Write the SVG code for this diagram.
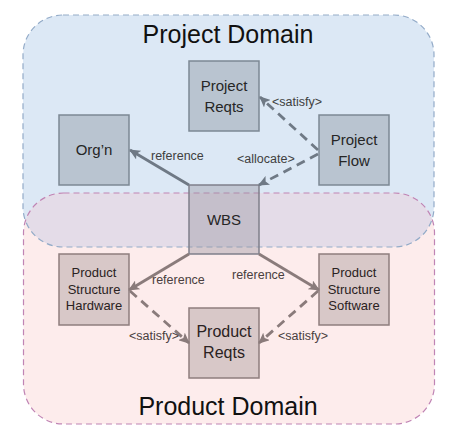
<svg xmlns="http://www.w3.org/2000/svg" width="470" height="441" viewBox="0 0 470 441">
  <defs>
    <style>
      .lbl{font-family:"Liberation Sans",Arial,sans-serif;font-size:12.5px;fill:#404040}
      .lbl2{font-family:"Liberation Sans",Arial,sans-serif;font-size:12.5px;fill:#4a4040}
      .ttl{font-family:"Liberation Sans",Arial,sans-serif;font-size:25px;fill:#111111;text-anchor:middle}
      .nt{font-family:"Liberation Sans",Arial,sans-serif;font-size:15px;fill:#262626;text-anchor:middle}
      .ntl{font-family:"Liberation Sans",Arial,sans-serif;font-size:16px;fill:#2a2222;text-anchor:middle}
      .nts{font-family:"Liberation Sans",Arial,sans-serif;font-size:13px;fill:#2a2222;text-anchor:middle}
      .up{fill:#b9c4d0;stroke:#7c8894;stroke-width:1.5}
      .lo{fill:#d8c8c8;stroke:#8e7e7e;stroke-width:1.5}
      .cu{fill:none;stroke:#6f7985;stroke-width:2.8}
      .cl{fill:none;stroke:#8a7b7b;stroke-width:2.8}
      .dash{stroke-dasharray:9 6}
    </style>
    <marker id="au" markerUnits="userSpaceOnUse" markerWidth="12" markerHeight="10" refX="10" refY="5" orient="auto">
      <path d="M0,0 L11,5 L0,10 L2.5,5 Z" fill="#6f7985"/>
    </marker>
    <marker id="al" markerUnits="userSpaceOnUse" markerWidth="12" markerHeight="10" refX="10" refY="5" orient="auto">
      <path d="M0,0 L11,5 L0,10 L2.5,5 Z" fill="#8a7b7b"/>
    </marker>
    <clipPath id="blueClip">
      <rect x="23" y="15" width="411" height="232" rx="40" ry="40"/>
    </clipPath>
  </defs>

  <g id="domains">
    <rect id="project-domain-bg" x="23" y="15" width="411" height="232" rx="40" ry="40" fill="#dce8f5"/>
    <rect id="product-domain-bg" x="23.5" y="193" width="411" height="231" rx="40" ry="40" fill="#fdecec"/>
    <rect x="23.5" y="193" width="411" height="231" rx="40" ry="40" fill="#e4dce8" clip-path="url(#blueClip)"/>
    <rect x="23" y="15" width="411" height="232" rx="40" ry="40" fill="none" stroke="#93abc8" stroke-width="1.2" stroke-dasharray="6 4"/>
    <rect x="23.5" y="193" width="411" height="231" rx="40" ry="40" fill="none" stroke="#c084b4" stroke-width="1.2" stroke-dasharray="6 4"/>
    <text class="ttl" x="228" y="43">Project Domain</text>
    <text class="ttl" x="228" y="415">Product Domain</text>
  </g>

  <g id="node-project-reqts">
    <rect class="up" x="189" y="61" width="70" height="70"/>
    <text class="nt" x="224" y="91">Project</text>
    <text class="nt" x="224" y="112">Reqts</text>
  </g>
  <g id="node-orgn">
    <rect class="up" x="59" y="115" width="70" height="70"/>
    <text class="nt" x="94" y="155">Org’n</text>
  </g>
  <g id="node-project-flow">
    <rect class="up" x="319" y="115" width="70" height="70"/>
    <text class="nt" x="354" y="145">Project</text>
    <text class="nt" x="354" y="166">Flow</text>
  </g>
  <g id="node-wbs">
    <rect x="189" y="185" width="70" height="69" fill="#9a96a2" fill-opacity="0.42" stroke="#7f7f8a" stroke-width="1.5"/>
    <text class="nt" x="224" y="225">WBS</text>
  </g>
  <g id="node-ps-hardware">
    <rect class="lo" x="59" y="254" width="70" height="71"/>
    <text class="nts" x="94" y="277">Product</text>
    <text class="nts" x="94" y="293.5">Structure</text>
    <text class="nts" x="94" y="310">Hardware</text>
  </g>
  <g id="node-ps-software">
    <rect class="lo" x="319" y="254" width="70" height="71"/>
    <text class="nts" x="354" y="277">Product</text>
    <text class="nts" x="354" y="293.5">Structure</text>
    <text class="nts" x="354" y="310">Software</text>
  </g>
  <g id="node-product-reqts">
    <rect class="lo" x="189" y="308" width="70" height="70"/>
    <text class="ntl" x="224" y="337">Product</text>
    <text class="ntl" x="224" y="358">Reqts</text>
  </g>

  <g id="connectors">
    <path class="cu" d="M189,185 L130,150" marker-end="url(#au)"/>
    <path class="cu dash" d="M318,150 L260,97" marker-end="url(#au)"/>
    <path class="cu dash" d="M318,154 L259,185" marker-end="url(#au)"/>
    <path class="cl" d="M189,254 L129,290" marker-end="url(#al)"/>
    <path class="cl" d="M259,254 L319,290" marker-end="url(#al)"/>
    <path class="cl dash" d="M130,291 L189,343" marker-end="url(#al)"/>
    <path class="cl dash" d="M318,291 L259,343" marker-end="url(#al)"/>
    <text class="lbl" x="151" y="160">reference</text>
    <text class="lbl" x="272" y="106">&lt;satisfy&gt;</text>
    <text class="lbl" x="237" y="163">&lt;allocate&gt;</text>
    <text class="lbl2" x="152" y="284">reference</text>
    <text class="lbl2" x="232" y="279">reference</text>
    <text class="lbl2" x="129" y="340">&lt;satisfy&gt;</text>
    <text class="lbl2" x="278" y="340">&lt;satisfy&gt;</text>
  </g>
</svg>
